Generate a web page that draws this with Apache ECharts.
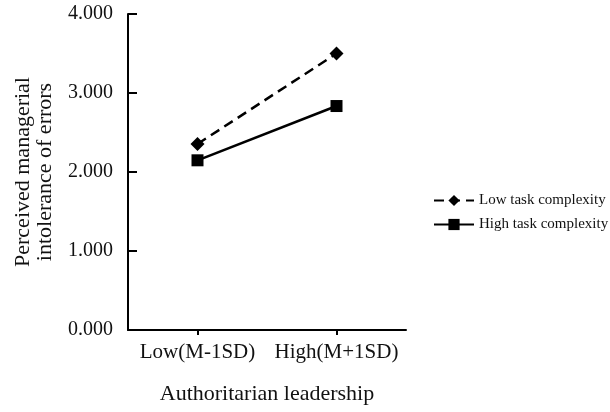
<!DOCTYPE html>
<html>
<head>
<meta charset="utf-8">
<script src="https://cdn.jsdelivr.net/npm/echarts@6/dist/echarts.min.js"></script>
<style>html,body{margin:0;padding:0;background:#fff}#c{width:610px;height:412px}</style>
</head>
<body>
<div id="c"></div>
<script>
const categories = ['Low(M-1SD)', 'High(M+1SD)'];
const lowTaskComplexity = [2.354, 3.50];
const highTaskComplexity = [2.148, 2.835];
const yTicks = { min: 0, max: 4, interval: 1 };
const seriesNames = ['Low task complexity', 'High task complexity'];

const font = '"Liberation Serif", "Times New Roman", serif';
const chart = echarts.init(document.getElementById('c'));
chart.setOption({
  animation: false,
  backgroundColor: '#fff',
  grid: { left: 128, right: 204, top: 14, bottom: 82, containLabel: false },
  legend: {
    orient: 'vertical',
    left: 428,
    top: 188,
    itemWidth: 40,
    itemHeight: 14,
    itemGap: 9,
    textStyle: { fontFamily: font, fontSize: 15, color: '#111' },
    data: seriesNames
  },
  xAxis: {
    type: 'category',
    data: categories,
    boundaryGap: true,
    name: 'Authoritarian leadership',
    nameLocation: 'middle',
    nameGap: 53,
    nameTextStyle: { fontFamily: font, fontSize: 22, color: '#111' },
    axisLine: { lineStyle: { color: '#000', width: 2 } },
    axisTick: { show: true, interval: 0, alignWithLabel: true, length: 5, lineStyle: { color: '#000', width: 2 } },
    axisLabel: { interval: 0, hideOverlap: false, fontFamily: font, fontSize: 21, color: '#111', margin: 12 },
    splitLine: { show: false }
  },
  yAxis: {
    type: 'value',
    min: yTicks.min,
    max: yTicks.max,
    interval: yTicks.interval,
    name: 'Perceived managerial\nintolerance of errors',
    nameLocation: 'middle',
    nameGap: 72,
    nameTextStyle: { fontFamily: font, fontSize: 22, color: '#111', lineHeight: 22 },
    axisLine: { show: true, lineStyle: { color: '#000', width: 2 } },
    axisTick: { show: true, inside: true, length: 9, lineStyle: { color: '#000', width: 2 } },
    axisLabel: { fontFamily: font, fontSize: 20, color: '#111', margin: 15,
      formatter: v => v.toFixed(3) },
    splitLine: { show: false }
  },
  series: [
    {
      name: seriesNames[0],
      type: 'line',
      data: lowTaskComplexity,
      symbol: 'diamond',
      symbolSize: 14,
      itemStyle: { color: '#000' },
      lineStyle: { color: '#000', width: 2.5, type: [10, 6] }
    },
    {
      name: seriesNames[1],
      type: 'line',
      data: highTaskComplexity,
      symbol: 'rect',
      symbolSize: 12,
      itemStyle: { color: '#000' },
      lineStyle: { color: '#000', width: 2.5 }
    }
  ]
});
</script>
</body>
</html>
